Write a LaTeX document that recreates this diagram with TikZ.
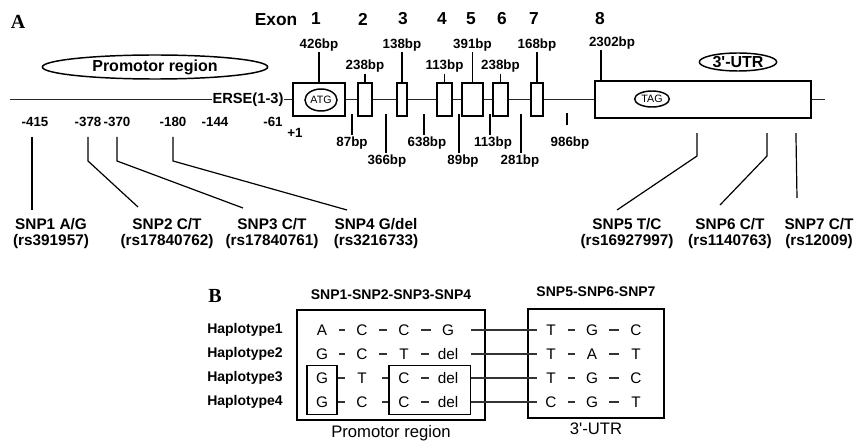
\documentclass[tikz,border=0pt]{standalone}
\usepackage{fontspec}
\setmainfont{Liberation Sans}
\newfontfamily\panelfont{Liberation Serif}
\usetikzlibrary{positioning, calc, shapes.geometric, fit}

\begin{document}
\begin{tikzpicture}[
  x=0.75pt, y=-0.75pt,
  every node/.style={inner sep=0pt, font=\bfseries},
  panel/.style={font=\panelfont\bfseries\fontsize{15}{15}\selectfont},
  exnum/.style={font=\bfseries\fontsize{13}{13}\selectfont},
  bplbl/.style={font=\bfseries\fontsize{10}{10}\selectfont},
  poslbl/.style={font=\bfseries\fontsize{10}{10}\selectfont},
  snplbl/.style={anchor=north, align=center, font=\bfseries\fontsize{11.5}{12}\selectfont},
  exonbox/.style={draw, line width=1.6pt, fill=white},
  oval/.style={ellipse, draw, line width=1.1pt, fill=white},
  gene/.style={line width=1.4pt, draw=black!85},
  tick/.style={line width=0.8pt},
  lead/.style={line width=0.9pt},
  haplbl/.style={anchor=west, font=\bfseries\fontsize{10.5}{10.5}\selectfont},
  hdrlbl/.style={font=\bfseries\fontsize{10.5}{10.5}\selectfont},
  reglbl/.style={font=\fontsize{12.5}{12.5}\selectfont},
  base/.style={minimum width=12pt, minimum height=12pt, font=\fontsize{11.5}{11.5}\selectfont},
  link/.style={line width=1pt, draw=black!80, shorten >=6.75pt, shorten <=6.75pt},
  hapbox/.style={draw, line width=1.5pt},
  subbox/.style={draw, line width=0.9pt, inner xsep=5pt, inner ysep=3pt},
]
\useasboundingbox (0,0) rectangle (857,442);

% ---- panel A: gene structure ----
\node[panel] (panA) at (18,22) {A};
\node[exnum] (exon) at (276,20) {Exon};
\foreach \n/\x in {1/316, 2/363, 3/403, 4/442, 5/471, 6/502, 7/534, 8/600}
  \node[exnum] (num\n) at (\x,19) {\n};

\node[oval, minimum width=169pt, minimum height=18pt,
      font=\bfseries\fontsize{12}{12}\selectfont] (promo) at (155,67) {Promotor region};
\node[oval, minimum width=58pt, minimum height=13.5pt,
      font=\bfseries\fontsize{12}{12}\selectfont] (utr) at (738,62) {3\textquotesingle-UTR};

% exons
\node[exonbox, fit={(293,83) (345,116)}] (ex1) {};
\node[exonbox, fit={(358,83) (372,116)}] (ex2) {};
\node[exonbox, fit={(397,83) (407,116)}] (ex3) {};
\node[exonbox, fit={(437,83) (452,116)}] (ex4) {};
\node[exonbox, fit={(462,83) (483,116)}] (ex5) {};
\node[exonbox, fit={(493,83) (508,116)}] (ex6) {};
\node[exonbox, fit={(531,83) (543,116)}] (ex7) {};
\node[exonbox, fit={(595,81) (811,118)}] (ex8) {};
\node[oval, minimum width=24pt, minimum height=16.5pt,
      font=\fontsize{8}{8}\selectfont] (atg) at (321,100) {ATG};
\node[oval, minimum width=26pt, minimum height=12pt,
      font=\fontsize{8}{8}\selectfont] (tag) at (652,99) {TAG};

% gene line
\node[font=\bfseries\fontsize{11}{11}\selectfont] (erse) at (248,99.5) {ERSE(1-3)};
\coordinate (lft) at (10,99.5);
\coordinate (rgt) at (825,99.5);
\draw[gene] (lft) -- (erse.west);
\draw[gene] (erse.east) -- (ex1.west);
\foreach \a/\b in {1/2, 2/3, 3/4, 4/5, 5/6, 6/7, 7/8}
  \draw[gene] (ex\a.east) -- (ex\b.west);
\draw[gene] (ex8.east) -- (rgt);

% exon sizes
\node[bplbl, above=23pt of ex1] (b426) {426bp};
\node[bplbl, above=7pt of ex2] (b238a) {238bp};
\node[bplbl, above=23pt of ex3] (b138) {138bp};
\node[bplbl, above=7pt of ex4] (b113a) {113bp};
\node[bplbl, above=23pt of ex5] (b391) {391bp};
\node[bplbl, above=7pt of ex6] (b238b) {238bp};
\node[bplbl, above=23pt of ex7] (b168) {168bp};
\node[bplbl] (b2302) at (612,43) {2302bp};
\foreach \lb/\ex in {b426/ex1, b238a/ex2, b138/ex3, b113a/ex4, b391/ex5, b238b/ex6, b168/ex7}
  \draw[tick] ($(\lb.south)+(0,1)$) -- (\lb.south |- \ex.north);
\coordinate (t2302) at ($(b2302.south)+(-11,1)$);
\draw[tick] (t2302) -- (t2302 |- ex8.north);

% intron sizes
\foreach \nm/\txt/\x/\y/\dx/\gap/\len in {i1/87bp/352/143/0/2/21, i2/366bp/387/161/-1/2/39,
    i3/638bp/427/143/-3/2/21, i4/89bp/463/161/-4/2/39, i5/113bp/493/143/-3/2/21,
    i6/281bp/520/161/1/2/39, i7/986bp/570/143/-3/12/12}{
  \node[bplbl] (\nm) at (\x,\y) {\txt};
  \draw[tick] ($(\nm.north)+(\dx,-\gap)$) -- ++(0,-\len);
}

% positions
\foreach \nm/\txt/\x in {m415/-415/35, m378/-378/88, m370/-370/117, m180/-180/173,
    m144/-144/215, m61/-61/273}
  \node[poslbl] (\nm) at (\x,122) {\txt};
\node[poslbl] (p1) at (295,133) {+1};

% SNP labels
\node[snplbl] (snp1) at (51,218) {SNP1 A/G\\(rs391957)};
\node[snplbl] (snp2) at (167,218) {SNP2 C/T\\(rs17840762)};
\node[snplbl] (snp3) at (272,218) {SNP3 C/T\\(rs17840761)};
\node[snplbl] (snp4) at (376,218) {SNP4 G/del\\(rs3216733)};
\node[snplbl] (snp5) at (627,218) {SNP5 T/C\\(rs16927997)};
\node[snplbl] (snp6) at (730,218) {SNP6 C/T\\(rs1140763)};
\node[snplbl] (snp7) at (819,218) {SNP7 C/T\\(rs12009)};

\draw[lead] ($(m415.south)+(-3,10)$) -- ($(snp1.north)+(-19,-8)$);
\draw[lead] ($(m378.south)+(0,10)$) -- ++(0,24) -- ($(snp2.north)+(-29,-11)$);
\draw[lead] ($(m370.south)+(0,10)$) -- ++(0,24) -- ($(snp3.north)+(-29,-10)$);
\draw[lead] ($(m180.south)+(0,10)$) -- ++(0,24) -- ($(snp4.north)+(-29,-8)$);
\coordinate (s5top) at ($(ex8.south west)+(103,14)$);
\coordinate (s6top) at ($(ex8.south west)+(173,14)$);
\coordinate (s7top) at ($(ex8.south west)+(202,14)$);
\draw[lead] (s5top) -- ++(0,23) -- ($(snp5.north)+(-10,-8)$);
\draw[lead] (s6top) -- ++(0,23) -- ($(snp6.north)+(-10,-13)$);
\draw[lead] (s7top) -- ($(snp7.north)+(-22,-20)$);

% ---- panel B: haplotypes ----
\node[panel] (panB) at (215,296) {B};
\node[hapbox, fit={(297,310) (485,420)}] (lbox) {};
\node[hapbox, fit={(528,309) (664,418)}] (rbox) {};
\node[hdrlbl, above=7pt of lbox] (hdrL) {SNP1-SNP2-SNP3-SNP4};
\node[hdrlbl, above=8pt of rbox] (hdrR) {SNP5-SNP6-SNP7};
\node[reglbl, below=3pt of lbox] (promoB) {Promotor region};
\node[reglbl, below=3pt of rbox] (utrB) {3\textquotesingle-UTR};

\foreach \i/\y/\sa/\sb/\sc/\sd/\se/\sf/\sg in {1/330/A/C/C/G/T/G/C, 2/354/G/C/T/del/T/A/T,
    3/378/G/T/C/del/T/G/C, 4/402/G/C/C/del/C/G/T}{
  \node[haplbl] (hap\i) at (207,\y) {Haplotype\i};
  \node[base] (p\i-a) at (322,\y) {\sa};
  \node[base] (p\i-b) at (362,\y) {\sb};
  \node[base] (p\i-c) at (404,\y) {\sc};
  \node[base] (p\i-d) at (448,\y) {\sd};
  \node[base] (p\i-e) at (551,\y) {\se};
  \node[base] (p\i-f) at (592,\y) {\sf};
  \node[base] (p\i-g) at (636,\y) {\sg};
  \draw[link] (p\i-c) -- (p\i-d);
  \draw[link] (p\i-e) -- (p\i-f);
  \draw[link] (p\i-f) -- (p\i-g);
}
\foreach \i in {1,2}{
  \draw[link] (p\i-a) -- (p\i-b);
  \draw[link] (p\i-b) -- (p\i-c);
}
\node[subbox, fit=(p3-a)(p4-a)] (gbox) {};
\node[subbox, fit={(p3-c) ($(p4-d.south east)+(5,0)$)}] (cbox) {};
\foreach \i in {3,4}{
  \draw[link, shorten <=0pt] (p\i-a -| gbox.east) -- (p\i-b);
  \draw[link, shorten <=9pt, shorten >=0pt] (p\i-b) -- (p\i-b -| cbox.west);
}
\foreach \i in {1,...,4}
  \draw[line width=1pt, draw=black!80, shorten >=4pt] (p\i-a -| cbox.east) -- (p\i-e);
\end{tikzpicture}
\end{document}
